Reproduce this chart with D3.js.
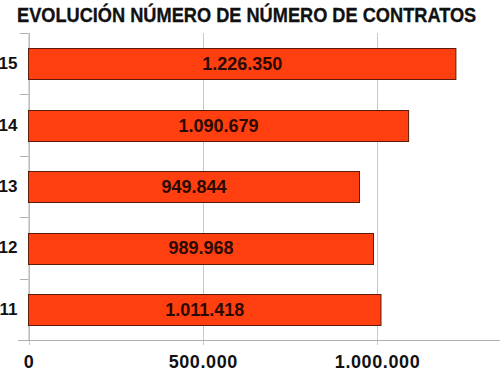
<!DOCTYPE html>
<html><head><meta charset="utf-8">
<script src="https://cdn.jsdelivr.net/npm/d3@7"></script>
<style>body{margin:0;background:#fff}svg{display:block}</style>
</head><body><svg id="c" width="500" height="380"></svg>
<script>
const categories = ["15","14","13","12","11"];
const values = [1226350, 1090679, 949844, 989968, 1011418];
const xTicks = [0, 500000, 1000000];
const title = "EVOLUCIÓN NÚMERO DE NÚMERO DE CONTRATOS";

const svg = d3.select("#c");
const mLeft = 28.5, mRight = 500, mTop = 33, mBottom = 340;
const x = d3.scaleLinear().domain([0, 1000000]).range([mLeft, 377]);
const y = d3.scaleBand().domain(categories).range([mTop, mBottom]).paddingInner(0.5).paddingOuter(0.25);
const fmt = v => d3.format(",")(v).replace(/,/g, ".");
const font = "'Liberation Sans', Arial, sans-serif";

svg.append("text").attr("transform", "translate(17,22) scale(1,1.1)")
  .attr("font-family", font).attr("font-weight","bold").attr("font-size", 18.2).attr("fill","#111")
  .attr("stroke", "#111").attr("stroke-width", 0.3).text(title);

// gridlines
svg.append("g").selectAll("line").data(xTicks).join("line")
  .attr("x1", d => Math.round(x(d))+0.5).attr("x2", d => Math.round(x(d))+0.5)
  .attr("y1", mTop).attr("y2", mBottom + 5).attr("stroke", "#c8c8c8").attr("stroke-width", 1);

// y axis
const yAxis = svg.append("g").attr("transform", `translate(${mLeft},0)`)
  .call(d3.axisLeft(y).tickSize(0).tickFormat(d => d).tickPadding(11));
yAxis.select(".domain").attr("stroke", "#b0b0b0");
yAxis.selectAll("text").attr("font-family", font).attr("font-weight","bold").attr("font-size", 17).attr("fill","#111");
// separators between categories
const seps = d3.range(categories.length).map(i => mTop + i * y.step());
svg.append("g").selectAll("line").data(seps).join("line")
  .attr("x1", 20).attr("x2", mLeft).attr("y1", d => Math.round(d)+0.5).attr("y2", d => Math.round(d)+0.5)
  .attr("stroke", "#b0b0b0");

// x axis
const xAxis = svg.append("g").attr("transform", `translate(0,${mBottom+0.5})`)
  .call(d3.axisBottom(x).tickValues(xTicks).tickSize(0).tickPadding(15).tickFormat(fmt));
xAxis.select(".domain").remove();
svg.append("line").attr("x1", 18).attr("x2", mRight).attr("y1", mBottom+0.5).attr("y2", mBottom+0.5).attr("stroke", "#b0b0b0");
xAxis.selectAll("text").attr("font-family", font).attr("font-weight","bold").attr("font-size", 18).attr("fill","#111")
  .attr("letter-spacing", 0.6);

// bars
const data = categories.map((c, i) => ({c, v: values[i]}));
svg.append("g").selectAll("rect").data(data).join("rect")
  .attr("x", x(0)).attr("y", d => Math.round(y(d.c))+0.5)
  .attr("width", d => x(d.v) - x(0)).attr("height", Math.round(y.bandwidth()))
  .attr("fill", "#ff3f0f").attr("stroke", "#5a1c08").attr("stroke-width", 1);

svg.append("g").selectAll("text").data(data).join("text")
  .attr("x", d => (x(0) + x(d.v)) / 2).attr("y", d => y(d.c) + y.bandwidth()/2 + 6.5)
  .attr("text-anchor", "middle").attr("font-family", font).attr("font-weight","bold").attr("font-size", 18)
  .attr("fill", "#2a0a02").text(d => fmt(d.v));
</script></body></html>
